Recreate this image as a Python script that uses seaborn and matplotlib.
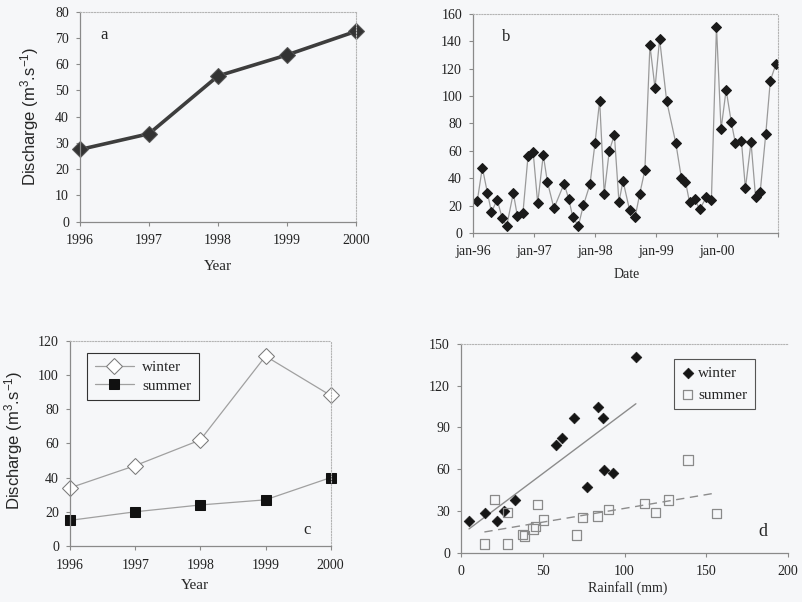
import numpy as np
import pandas as pd
import matplotlib
matplotlib.use("Agg")
import matplotlib.pyplot as plt
import seaborn as sns

sns.set_theme(style="ticks")
plt.rcParams["font.family"] = ["Liberation Serif", "DejaVu Serif"]
plt.rcParams["mathtext.default"] = "regular"

BG = "#f6f7f9"

# ------------------------------------------------------------------
# DATA
# ------------------------------------------------------------------
# a - mean annual discharge
years = [1996, 1997, 1998, 1999, 2000]
annual_q = [27.5, 33.5, 55.5, 63.5, 72.5]

# b - monthly discharge (x = months since jan-96)
month_idx = [0.8, 1.8, 2.8, 3.6, 4.7, 5.7, 6.6, 7.9, 8.7, 9.8,
             10.8, 11.8, 12.7, 13.8, 14.6, 15.9, 17.9, 18.8, 19.6, 20.7,
             21.7, 23.0, 24.0, 24.9, 25.8, 26.8, 27.8, 28.7, 29.5, 30.8,
             31.9, 32.8, 33.8, 34.8, 35.8, 36.7, 38.1, 39.9, 41.0, 41.8,
             42.6, 43.6, 44.6, 45.9, 46.9, 47.9, 48.8, 49.8, 50.8, 51.6,
             52.8, 53.6, 54.7, 55.6, 56.5, 57.6, 58.5, 59.6]
monthly_q = [23.2, 47.7, 29.4, 15.1, 24.3, 11.2, 5.1, 29.2, 12.4, 14.8,
             56.2, 59.4, 21.7, 57.0, 37.5, 18.0, 36.0, 25.0, 11.9, 5.1,
             20.2, 35.6, 66.0, 96.7, 28.7, 60.1, 71.6, 22.6, 38.0, 16.6,
             11.9, 28.7, 45.8, 137.0, 105.7, 141.7, 96.2, 65.5, 40.0, 37.5,
             22.4, 24.6, 17.3, 26.1, 24.1, 150.7, 75.7, 104.5, 81.3, 66.0,
             67.4, 32.6, 66.3, 26.1, 29.7, 72.1, 111.3, 123.2]
date_ticks = [0, 12, 24, 36, 48, 60]
date_labels = ["jan-96", "jan-97", "jan-98", "jan-99", "jan-00", ""]

# c - seasonal discharge
winter_q = [34, 47, 62, 111, 88]
summer_q = [15, 20, 24, 27, 40]

# d - rainfall vs discharge
rain_w = [4.9, 14.7, 21.8, 26.3, 33.0, 58.0, 61.9, 69.2, 77.2, 83.9,
          86.6, 87.6, 92.7, 106.9]
disch_w = [23.0, 28.8, 22.8, 30.0, 37.9, 77.4, 82.7, 96.8, 47.0, 105.0,
           96.8, 59.7, 57.3, 140.9]
rain_s = [14.3, 20.4, 28.3, 28.3, 37.5, 39.0, 44.0, 45.5, 46.8, 50.3,
          70.7, 74.1, 83.3, 90.0, 112.0, 118.7, 126.9, 138.7, 156.2]
disch_s = [6.2, 38.3, 28.8, 6.2, 13.0, 12.0, 17.0, 19.0, 34.7, 23.5,
           12.7, 25.4, 26.4, 31.2, 35.5, 28.8, 37.9, 66.6, 28.3]


def style_axes(ax, right=True):
    ax.set_facecolor(BG)
    for s in ["left", "bottom"]:
        ax.spines[s].set_color("#8a8a8a")
        ax.spines[s].set_linewidth(0.9)
    for s in ["top", "right"]:
        ax.spines[s].set_color("#b4b4b4")
        ax.spines[s].set_linewidth(0.8)
        ax.spines[s].set_linestyle((0, (1, 1.5)))
    ax.spines["right"].set_visible(right)
    ax.tick_params(direction="out", length=3, width=0.8, color="#8a8a8a",
                   labelsize=10, labelcolor="#222222")
    ax.tick_params(axis="x", pad=6)
    ax.tick_params(axis="y", pad=5)


fig = plt.figure(figsize=(8.02, 6.02), dpi=100, facecolor=BG)
ax_a = fig.add_axes([0.0998, 0.6317, 0.344, 0.349])
ax_b = fig.add_axes([0.590, 0.613, 0.380, 0.364])
ax_c = fig.add_axes([0.0873, 0.093, 0.325, 0.341])
ax_d = fig.add_axes([0.5748, 0.0819, 0.408, 0.3467])

ylab = "Discharge (m$^{3}$.s$^{-1}$)"

# ------------------------------------------------------------------
# a
# ------------------------------------------------------------------
style_axes(ax_a)
sns.lineplot(x=years, y=annual_q, ax=ax_a, color="#3d3d3d", linewidth=2.6,
             marker="D", markersize=8, markerfacecolor="#333333",
             markeredgecolor="#555555", clip_on=False)
ax_a.set_xlim(1996, 2000)
ax_a.set_ylim(0, 80)
ax_a.set_xticks(years)
ax_a.set_yticks(range(0, 81, 10))
ax_a.set_xlabel("Year", fontsize=11)
ax_a.set_ylabel(ylab, family=["Liberation Sans", "DejaVu Sans"], fontsize=12)
ax_a.yaxis.set_label_coords(-0.14, 0.5)
ax_a.xaxis.set_label_coords(0.5, -0.18)
ax_a.text(1996.35, 71, "a", fontsize=12, ha="center", va="center")

# ------------------------------------------------------------------
# b
# ------------------------------------------------------------------
style_axes(ax_b)
sns.lineplot(x=month_idx, y=monthly_q, ax=ax_b, color="#9a9a9a",
             linewidth=0.9, marker="D", markersize=5,
             markerfacecolor="#1a1a1a", markeredgecolor="#1a1a1a")
ax_b.set_xlim(0, 60)
ax_b.set_ylim(0, 160)
ax_b.set_xticks(date_ticks)
ax_b.set_xticklabels(date_labels)
ax_b.set_yticks(range(0, 161, 20))
ax_b.set_xlabel("Date", fontsize=10)
ax_b.set_ylabel("")
ax_b.xaxis.set_label_coords(0.503, -0.16)
ax_b.text(6.4, 143, "b", fontsize=12, ha="center", va="center")

# ------------------------------------------------------------------
# c
# ------------------------------------------------------------------
style_axes(ax_c)
sns.lineplot(x=years, y=winter_q, ax=ax_c, color="#a0a0a0", linewidth=0.9,
             marker="D", markersize=8, markerfacecolor="white",
             markeredgecolor="#7a7a7a", label="winter", clip_on=False)
sns.lineplot(x=years, y=summer_q, ax=ax_c, color="#a0a0a0", linewidth=0.9,
             marker="s", markersize=7.5, markerfacecolor="#111111",
             markeredgecolor="#111111", label="summer", clip_on=False)
ax_c.set_xlim(1996, 2000)
ax_c.set_ylim(0, 120)
ax_c.set_xticks(years)
ax_c.set_yticks(range(0, 121, 20))
ax_c.set_xlabel("Year", fontsize=11)
ax_c.set_ylabel(ylab, family=["Liberation Sans", "DejaVu Sans"], fontsize=12)
ax_c.yaxis.set_label_coords(-0.172, 0.516)
ax_c.xaxis.set_label_coords(0.479, -0.16)
ax_c.text(1999.64, 9.4, "c", fontsize=12, ha="center", va="center")
leg = ax_c.legend(loc="upper left", bbox_to_anchor=(0.065, 0.94),
                  borderaxespad=0, frameon=True, fancybox=False,
                  edgecolor="#333333", facecolor=BG, framealpha=1,
                  fontsize=11, handlelength=2.6, handletextpad=0.5,
                  labelspacing=0.3, borderpad=0.5)
leg.get_frame().set_linewidth(0.8)

# ------------------------------------------------------------------
# d
# ------------------------------------------------------------------
style_axes(ax_d, right=False)
sns.scatterplot(x=rain_w, y=disch_w, ax=ax_d, marker="D", s=30,
                color="#151515", edgecolor="#151515", label="winter",
                zorder=3, clip_on=False)
sns.scatterplot(x=rain_s, y=disch_s, ax=ax_d, marker="s", s=45,
                facecolor="none", edgecolor="#8a8a8a", linewidth=0.9,
                label="summer", zorder=3, clip_on=False)
sns.regplot(x=rain_w, y=disch_w, ax=ax_d, scatter=False, ci=None,
            truncate=True, color="#8c8c8c", line_kws={"linewidth": 1.0, "zorder": 1})
sns.regplot(x=rain_s, y=disch_s, ax=ax_d, scatter=False, ci=None,
            truncate=True, color="#8c8c8c",
            line_kws={"linewidth": 1.0, "linestyle": (0, (6, 4)), "zorder": 1})
ax_d.set_xlim(0, 200)
ax_d.set_ylim(0, 150)
ax_d.set_xticks(range(0, 201, 50))
ax_d.set_yticks(range(0, 151, 30))
ax_d.set_xlabel("Rainfall (mm)", fontsize=10)
ax_d.set_ylabel("")
ax_d.xaxis.set_label_coords(0.51, -0.135)
ax_d.text(184.3, 15.1, "d", fontsize=13, ha="center", va="center")
leg = ax_d.legend(loc="upper left", bbox_to_anchor=(0.651, 0.928),
                  borderaxespad=0, frameon=True, fancybox=False,
                  edgecolor="#555555", facecolor=BG, framealpha=1,
                  fontsize=11, handlelength=0.8, handletextpad=0.3,
                  labelspacing=0.5, borderpad=0.5)
leg.get_frame().set_linewidth(0.8)

fig.savefig("out.png", dpi=100, facecolor=BG)
